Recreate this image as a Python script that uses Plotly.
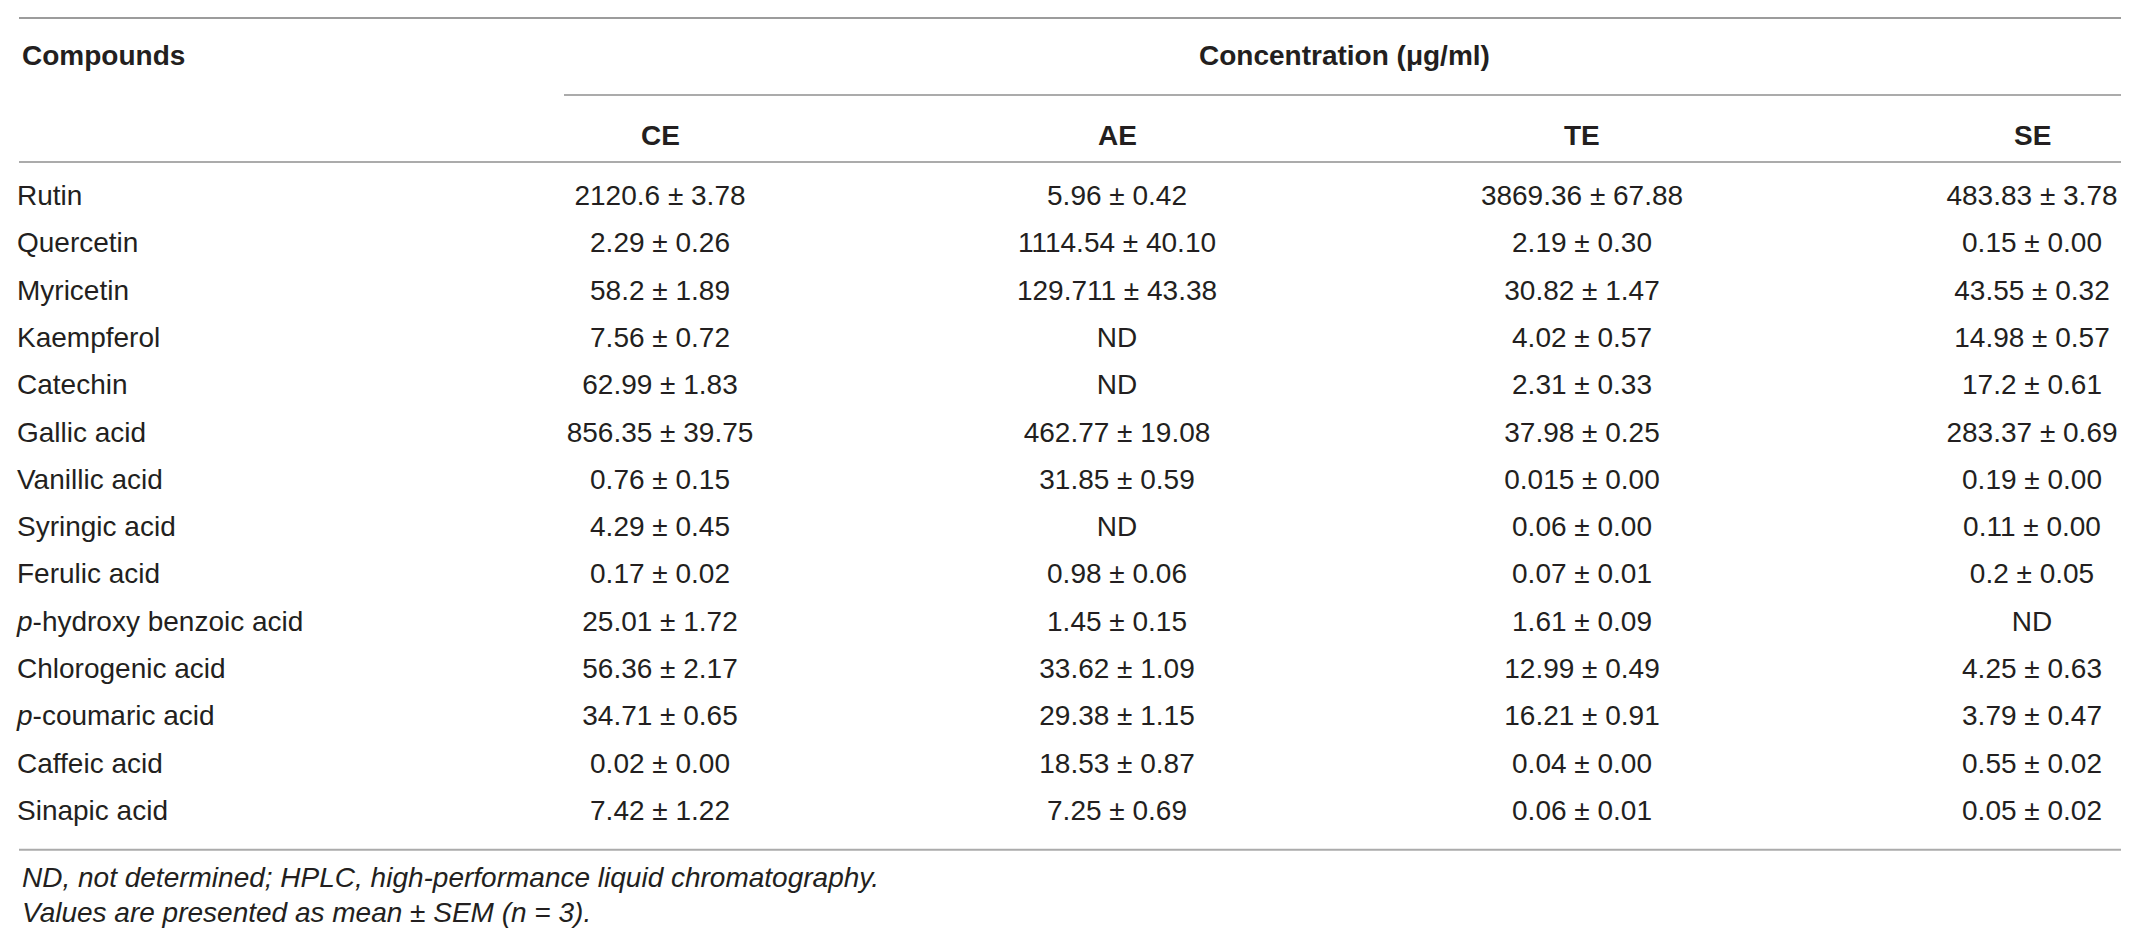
import plotly.graph_objects as go

compounds = ["Rutin", "Quercetin", "Myricetin", "Kaempferol", "Catechin", "Gallic acid",
             "Vanillic acid", "Syringic acid", "Ferulic acid", "<i>p</i>-hydroxy benzoic acid",
             "Chlorogenic acid", "<i>p</i>-coumaric acid", "Caffeic acid", "Sinapic acid"]

ce = ["2120.6 ± 3.78", "2.29 ± 0.26", "58.2 ± 1.89", "7.56 ± 0.72", "62.99 ± 1.83",
      "856.35 ± 39.75", "0.76 ± 0.15", "4.29 ± 0.45", "0.17 ± 0.02", "25.01 ± 1.72",
      "56.36 ± 2.17", "34.71 ± 0.65", "0.02 ± 0.00", "7.42 ± 1.22"]
ae = ["5.96 ± 0.42", "1114.54 ± 40.10", "129.711 ± 43.38", "ND", "ND",
      "462.77 ± 19.08", "31.85 ± 0.59", "ND", "0.98 ± 0.06", "1.45 ± 0.15",
      "33.62 ± 1.09", "29.38 ± 1.15", "18.53 ± 0.87", "7.25 ± 0.69"]
te = ["3869.36 ± 67.88", "2.19 ± 0.30", "30.82 ± 1.47", "4.02 ± 0.57", "2.31 ± 0.33",
      "37.98 ± 0.25", "0.015 ± 0.00", "0.06 ± 0.00", "0.07 ± 0.01", "1.61 ± 0.09",
      "12.99 ± 0.49", "16.21 ± 0.91", "0.04 ± 0.00", "0.06 ± 0.01"]
se = ["483.83 ± 3.78", "0.15 ± 0.00", "43.55 ± 0.32", "14.98 ± 0.57", "17.2 ± 0.61",
      "283.37 ± 0.69", "0.19 ± 0.00", "0.11 ± 0.00", "0.2 ± 0.05", "ND",
      "4.25 ± 0.63", "3.79 ± 0.47", "0.55 ± 0.02", "0.05 ± 0.02"]

col_names = ["CE", "AE", "TE", "SE"]
footnotes = ["<i>ND, not determined; HPLC, high-performance liquid chromatography.</i>",
             "<i>Values are presented as mean ± SEM (n = 3).</i>"]

FONT = "Liberation Sans"
TXT = "#231f20"
LINE = "#ababab"
FS = 28

col_x = [652, 1109, 1574, 2024]
rows = list(range(len(compounds)))
x_end = 2116

fig = go.Figure()

# compound names, left aligned
fig.add_trace(go.Scatter(x=[9] * len(compounds), y=rows, text=compounds,
                         mode="text", textposition="middle right",
                         textfont=dict(family=FONT, size=FS, color=TXT),
                         hoverinfo="skip", showlegend=False))

for cx, vals in zip(col_x, [ce, ae, te, se]):
    fig.add_trace(go.Scatter(x=[cx] * len(vals), y=rows, text=vals,
                             mode="text", textposition="middle center",
                             textfont=dict(family=FONT, size=FS, color=TXT),
                             hoverinfo="skip", showlegend=False))

# header text
bold = dict(family=FONT, size=FS, color=TXT)
fig.add_annotation(x=12, y=-3.02, text="<b>Compounds</b>", showarrow=False,
                   xanchor="left", yanchor="middle", font=bold)
fig.add_annotation(x=1336, y=-3.02, text="<b>Concentration (μg/ml)</b>", showarrow=False,
                   xanchor="center", yanchor="middle", font=bold)
for cx, name in zip(col_x, col_names):
    fig.add_annotation(x=cx, y=-1.33, text="<b>" + name + "</b>", showarrow=False,
                       xanchor="center", yanchor="middle", font=bold)

for i, note in enumerate(footnotes):
    fig.add_annotation(x=12, y=14.36 + i * 0.74, text=note, showarrow=False,
                       xanchor="left", yanchor="middle",
                       font=dict(family=FONT, size=FS, color=TXT))

# rules
fig.add_shape(type="line", x0=11, x1=x_end, y0=-3.805, y1=-3.805, line=dict(color="#9c9c9c", width=2))
fig.add_shape(type="line", x0=556, x1=x_end, y0=-2.18, y1=-2.18, line=dict(color=LINE, width=2))
fig.add_shape(type="line", x0=11, x1=x_end, y0=-0.76, y1=-0.76, line=dict(color=LINE, width=2))
fig.add_shape(type="line", x0=11, x1=x_end, y0=13.78, y1=13.78, line=dict(color=LINE, width=2))

fig.update_xaxes(range=[0, 2129], visible=False, fixedrange=True)
fig.update_yaxes(range=[15.708, -4.017], visible=False, fixedrange=True)
fig.update_layout(width=2129, height=933, autosize=False,
                  margin=dict(l=0, r=0, t=0, b=0),
                  plot_bgcolor="white", paper_bgcolor="white")

fig.write_html("out.html", config={"displayModeBar": False})
